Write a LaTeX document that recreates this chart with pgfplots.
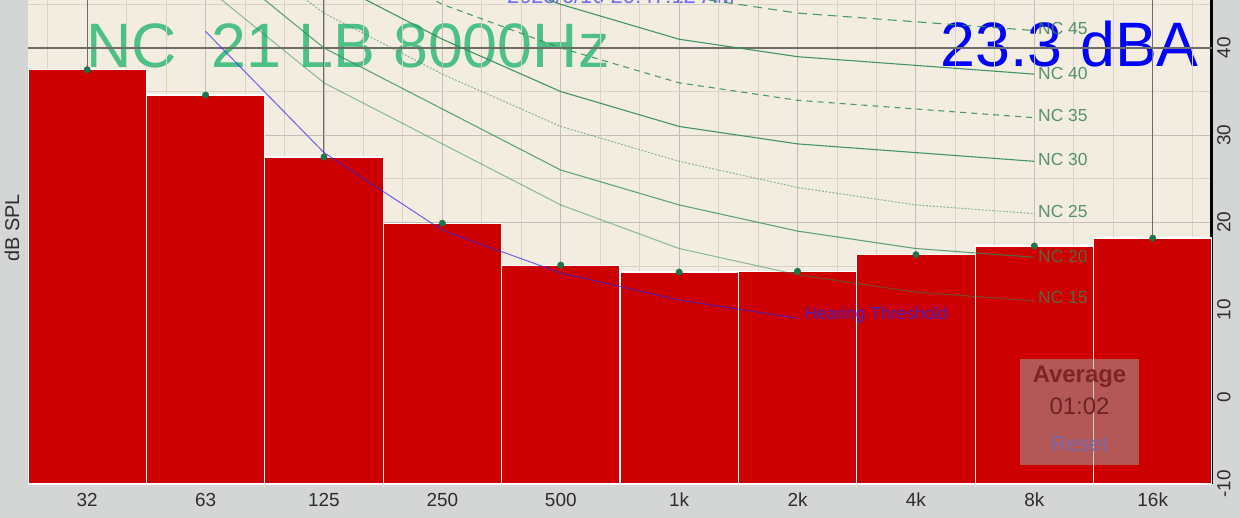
\documentclass[border=0pt]{standalone}
\usepackage{fontspec}
\setmainfont{Liberation Sans}
\usepackage{pgfplots}
\usepackage{pgfplotstable}
\pgfplotsset{compat=1.18}
\definecolor{bgbeige}{RGB}{243,236,224}
\definecolor{outergrey}{RGB}{212,214,214}
\definecolor{barred}{RGB}{204,0,0}
\definecolor{ncgreen}{RGB}{46,139,87}
\definecolor{nclabel}{RGB}{60,130,90}
\definecolor{titlegreen}{RGB}{77,192,133}
\definecolor{markgreen}{RGB}{30,115,75}
\definecolor{gridminor}{RGB}{218,210,198}
\definecolor{gridmajor}{RGB}{196,190,182}
\definecolor{griddark}{RGB}{110,108,105}
\definecolor{darkgrey}{RGB}{45,45,45}
\definecolor{axisblue}{RGB}{120,130,140}
\definecolor{datecol}{RGB}{110,110,240}
\definecolor{thrblue}{RGB}{50,40,235}

\pgfplotstableread{
x db
0 37.5
1 34.6
2 27.5
3 19.9
4 15.1
5 14.3
6 14.4
7 16.3
8 17.3
9 18.2
}\bartable

\pgfplotstableread{
x nc15 nc20 nc25 nc30 nc35 nc40 nc45
1 47 51 54 57 60 64 67
2 36 40 44 48 52 56 60
3 29 33 37 41 45 50 54
4 22 26 31 35 40 45 49
5 17 22 27 31 36 41 46
6 14 19 24 29 34 39 44
7 12 17 22 28 33 38 43
8 11 16 21 27 32 37 42
}\nctable

\pgfplotstableread{
x thr
1 41.9
2 28.0
3 19.1
4 14.2
5 11.1
6 9.0
}\thrtable

\begin{document}
\begin{tikzpicture}
\useasboundingbox (-28bp,-34bp) rectangle (1212bp,484bp);
\fill[outergrey] (-28bp,-34bp) rectangle (1212bp,484bp);
\fill[bgbeige] (0bp,0bp) rectangle (1184bp,484bp);
\node[anchor=base west, inner sep=0pt, text=titlegreen, font=\fontsize{63}{63}\selectfont] at (58bp,416bp) {NC\ \ 21 LB 8000Hz};
\node[anchor=base east, inner sep=0pt, text=blue, font=\fontsize{63}{63}\selectfont] at (1171bp,417bp) {23.3 dBA};
\node[anchor=base, inner sep=0pt, text=datecol, font=\fontsize{22}{22}\selectfont] at (593bp,480bp) {2023/6/16 20:47:12 AM};
\begin{axis}[
  at={(0bp,0bp)}, anchor=south west,
  scale only axis, width=1184bp, height=484bp,
  xmin=-0.5, xmax=9.5, ymin=-10, ymax=45.5,
  y coord trafo/.code={\pgfmathparse{#1+10}},
  y coord inv trafo/.code={\pgfmathparse{#1-10}},
  axis x line*=bottom, axis y line*=right,
  x axis line style={draw=axisblue, line width=1.2bp},
  y axis line style={draw=black, line width=3bp},
  xtick={0,...,9},
  xticklabels={32,63,125,250,500,1k,2k,4k,8k,16k},
  minor xtick={-0.3333,0.3333,0.6667,1.3333,1.6667,2.3333,2.6667,3.3333,3.6667,4.3333,4.6667,5.3333,5.6667,6.3333,6.6667,7.3333,7.6667,8.3333,8.6667,9.3333},
  ytick={-10,0,10,20,30,40},
  minor ytick={-5,5,15,25,35,45},
  grid=both,
  major grid style={draw=gridmajor, line width=0.9bp},
  minor grid style={draw=gridminor, line width=0.9bp},
  major tick length=0pt, minor tick length=0pt,
  tick label style={font=\fontsize{19}{19}\selectfont, text=darkgrey},
  xticklabel style={anchor=base, yshift=-22bp},
  yticklabel style={anchor=center, rotate=90, yshift=-12bp},
  /pgf/number format/assume math mode=true,
  ylabel={dB SPL},
  every axis y label/.style={at={(axis description cs:0,0.529)}, rotate=90, anchor=center, yshift=16bp, font=\fontsize{20}{20}\selectfont, text=darkgrey},
  extra x ticks={0,2,9}, extra x tick labels={},
  extra x tick style={grid=major, major grid style={draw=griddark, line width=1bp}},
  extra y ticks={40}, extra y tick labels={},
  extra y tick style={grid=major, major grid style={draw=griddark, line width=1.2bp}},
]
\addplot[ybar, bar width=1, fill=barred, draw=white, line width=1.2bp] table[x=x,y=db]{\bartable};

\addplot[ncgreen, line width=1.1bp, draw opacity=0.85, dash pattern=on 9bp off 6bp] table[x=x,y=nc45]{\nctable}
  node[pos=1, anchor=west, yshift=2bp, text=nclabel, text opacity=0.85, font=\fontsize{17.5}{17.5}\selectfont]{NC 45};
\addplot[ncgreen, line width=1.1bp, draw opacity=0.9] table[x=x,y=nc40]{\nctable}
  node[pos=1, anchor=west, yshift=1bp, text=nclabel, text opacity=0.85, font=\fontsize{17.5}{17.5}\selectfont]{NC 40};
\addplot[ncgreen, line width=1.1bp, draw opacity=0.85, dash pattern=on 6bp off 5bp] table[x=x,y=nc35]{\nctable}
  node[pos=1, anchor=west, yshift=2bp, text=nclabel, text opacity=0.85, font=\fontsize{17.5}{17.5}\selectfont]{NC 35};
\addplot[ncgreen, line width=1.1bp, draw opacity=0.9] table[x=x,y=nc30]{\nctable}
  node[pos=1, anchor=west, yshift=2bp, text=nclabel, text opacity=0.85, font=\fontsize{17.5}{17.5}\selectfont]{NC 30};
\addplot[ncgreen, line width=1.1bp, draw opacity=0.5, dash pattern=on 2bp off 1.5bp] table[x=x,y=nc25]{\nctable}
  node[pos=1, anchor=west, yshift=2bp, text=nclabel, text opacity=0.85, font=\fontsize{17.5}{17.5}\selectfont]{NC 25};
\addplot[ncgreen, line width=1.1bp, draw opacity=0.75] table[x=x,y=nc20]{\nctable}
  node[pos=1, anchor=west, yshift=1bp, text=nclabel, text opacity=0.75, font=\fontsize{17.5}{17.5}\selectfont]{NC 20};
\addplot[ncgreen, line width=1.1bp, draw opacity=0.5] table[x=x,y=nc15]{\nctable}
  node[pos=1, anchor=west, yshift=3bp, text=nclabel, text opacity=0.75, font=\fontsize{17.5}{17.5}\selectfont]{NC 15};

\addplot[thrblue, line width=1bp, draw opacity=0.7] table[x=x,y=thr]{\thrtable}
  node[pos=1, anchor=west, xshift=3bp, yshift=3bp, text=thrblue, text opacity=0.8, font=\fontsize{17.5}{17.5}\selectfont]{Hearing Threshold};

\addplot[only marks, mark=*, mark size=3.2bp, draw=markgreen, fill=markgreen] table[x=x,y=db]{\bartable};
\end{axis}
\fill[gray!75, fill opacity=0.55] (992bp,19bp) rectangle (1111bp,125bp);
\node[anchor=base, inner sep=0pt, text={rgb,255:red,130;green,35;blue,35}, font=\bfseries\fontsize{24}{24}\selectfont] at (1051.5bp,101bp) {Average};
\node[anchor=base, inner sep=0pt, text={rgb,255:red,110;green,35;blue,35}, font=\fontsize{24}{24}\selectfont] at (1051.5bp,69bp) {01:02};
\node[anchor=base, inner sep=0pt, text={rgb,255:red,125;green,105;blue,170}, font=\fontsize{22}{22}\selectfont] at (1051.5bp,33bp) {Reset};
\end{tikzpicture}
\end{document}
